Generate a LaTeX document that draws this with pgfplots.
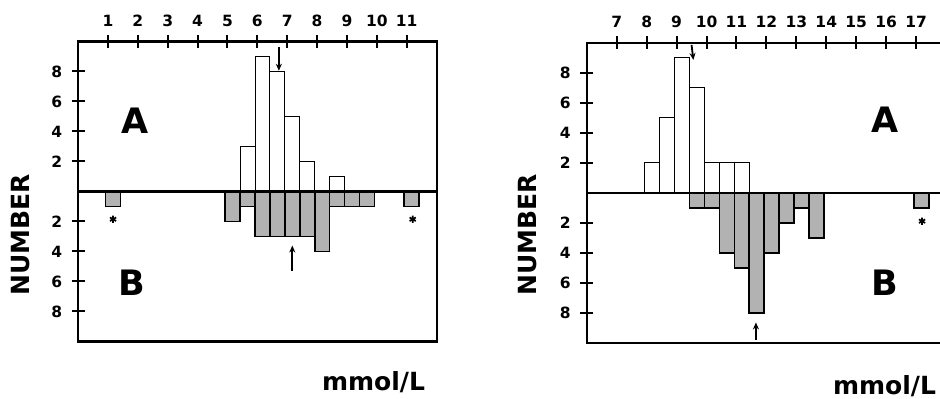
\documentclass[border=0pt]{standalone}
\usepackage{pgfplots}
\pgfplotsset{compat=1.18}
\usepackage{fontspec}
\setmainfont{DejaVu Sans}
\usetikzlibrary{arrows.meta}
\tikzset{
  arr/.style={-{Stealth[length=7pt,width=6pt]}, line width=1.8pt},
  letter/.style={font=\bfseries\fontsize{35}{35}\selectfont},
}
\begin{document}
\begin{tikzpicture}[x=1pt,y=1pt]
\pgfplotsset{
  panel/.style={
    scale only axis, height=300pt,
    ymin=-10, ymax=10,
    axis line style={line width=2.2pt},
    ytick={-8,-6,-4,-2,2,4,6,8},
    yticklabels={8,6,4,2,2,4,6,8},
    ytick pos=left, xtick pos=right, xticklabel pos=right,
    tick align=center, major tick length=13pt,
    every tick/.style={line width=2pt, black},
    tick style={line width=2pt, black},
    ticklabel style={font=\bfseries\fontsize{15.5}{15.5}\selectfont},
    xticklabel style={yshift=5pt},
    yticklabel style={xshift=-6pt},
    /pgf/number format/assume math mode=true,
    clip=false,
  },
  Abar/.style={ybar, bar width=0.5, bar shift=0pt, fill=white, draw=black, line width=0.9pt},
  Bbar/.style={ybar, bar width=0.5, bar shift=0pt, fill=black!30, draw=black, line width=1.7pt},
  star/.style={only marks, mark=asterisk, mark size=3.6pt, mark options={line width=1.7pt}, black},
}
% ---------------- left panel ----------------
\begin{axis}[panel, width=358.5pt, at={(78.1pt,57.5pt)}, anchor=south west,
  xmin=0, xmax=12, xtick={1,2,3,4,5,6,7,8,9,10,11}]
\addplot[Abar] coordinates {(5.67,3) (6.17,9) (6.67,8) (7.17,5) (7.67,2) (8.67,1)};
\addplot[Bbar] coordinates {(1.17,-1) (5.17,-2) (5.67,-1) (6.17,-3) (6.67,-3) (7.17,-3) (7.67,-3) (8.17,-4) (8.67,-1) (9.17,-1) (9.67,-1) (11.17,-1)};
\addplot[star] coordinates {(1.17,-1.85) (11.2,-1.85)};
\draw[line width=2.2pt] (axis cs:0,0) -- (axis cs:12,0);
\draw[arr] (axis cs:6.72,9.6) -- (axis cs:6.72,8.05);
\draw[arr] (axis cs:7.17,-5.3) -- (axis cs:7.17,-3.6);
\node[letter] at (axis cs:1.9,4.75) {A};
\node[letter] at (axis cs:1.8,-6.05) {B};
\end{axis}
% ---------------- right panel ----------------
\begin{axis}[panel, width=359.2pt, at={(586.8pt,56.3pt)}, anchor=south west,
  xmin=6, xmax=18, xtick={7,8,9,10,11,12,13,14,15,16,17}]
\addplot[Abar] coordinates {(8.18,2) (8.68,5) (9.18,9) (9.68,7) (10.18,2) (10.68,2) (11.18,2)};
\addplot[Bbar] coordinates {(9.68,-1) (10.18,-1) (10.68,-4) (11.18,-5) (11.68,-8) (12.18,-4) (12.68,-2) (13.18,-1) (13.68,-3) (17.18,-1)};
\addplot[star] coordinates {(17.2,-1.9)};
\draw[line width=2.2pt] (axis cs:6,0) -- (axis cs:18,0);
\draw[arr] (axis cs:9.5,9.85) -- (axis cs:9.56,8.85);
\draw[arr] (axis cs:11.65,-9.8) -- (axis cs:11.65,-8.65);
\node[letter] at (axis cs:15.97,4.85) {A};
\node[letter] at (axis cs:15.97,-6.0) {B};
\end{axis}
% ---------------- labels ----------------
\node[rotate=90, font=\bfseries\fontsize{25}{25}\selectfont] at (21,164) {NUMBER};
\node[rotate=90, font=\bfseries\fontsize{25}{25}\selectfont] at (528,164) {NUMBER};
\node[font=\bfseries\fontsize{25}{25}\selectfont] at (373.5,17) {mmol/L};
\node[font=\bfseries\fontsize{25}{25}\selectfont] at (884.5,13) {mmol/L};
\pgfresetboundingbox
\useasboundingbox (0,0) rectangle (940,399);
\end{tikzpicture}
\end{document}
